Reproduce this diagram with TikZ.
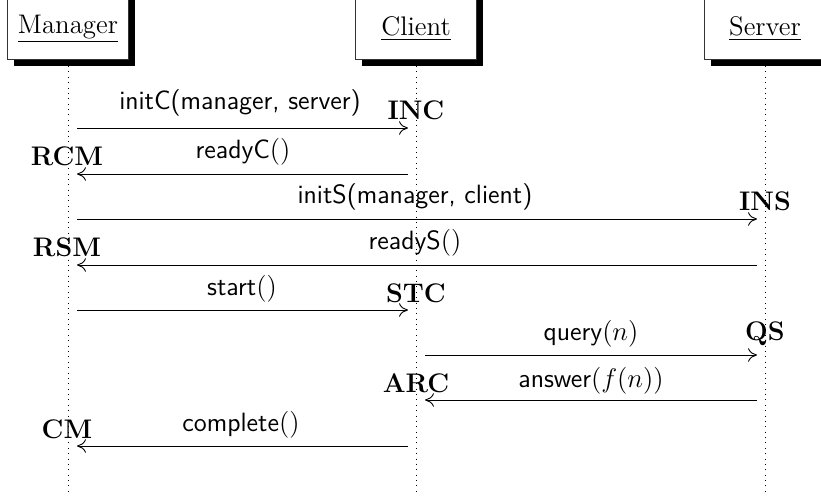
\documentclass[tikz,border=0pt]{standalone}
\usetikzlibrary{arrows.meta}
\begin{document}
\begin{tikzpicture}[x=0.01569cm,y=-0.01569cm,
  threadbox/.style={draw=black!80,fill=white,line width=0.5pt,minimum width=121*0.01569cm,minimum height=75*0.01569cm,inner sep=0pt},
  shadowbox/.style={fill=black,draw=none,minimum width=121*0.01569cm,minimum height=75*0.01569cm,inner sep=0pt},
  lifeline/.style={dotted,line width=0.4pt},
  msg/.style={-{To[length=4pt,width=6pt]},line width=0.4pt},
  mlabel/.style={font=\fontsize{11.8}{14}\selectfont\sffamily,inner sep=0pt},
  tag/.style={font=\fontsize{11.8}{14}\selectfont,inner sep=0pt}]
\useasboundingbox (0,0) rectangle (821,496);
% shadows and boxes
\node[shadowbox] (Ms) at (74,28) {};
\node[shadowbox] (Cs) at (422,28) {};
\node[shadowbox] (Ss) at (771,28) {};
\node[threadbox] (M) at (68,22) {};
\node[threadbox] (C) at (416,22) {};
\node[threadbox] (S) at (765,22) {};
\node[font=\large] (Mt) at (68,29) {\underline{Manager}};
\node[font=\large] (Ct) at (416,29) {\underline{Client}};
\node[font=\large] (St) at (765,29) {\underline{Server}};
% lifelines
\coordinate (Mtop) at (68,66); \coordinate (Ctop) at (416,66); \coordinate (Stop) at (765,66);
\coordinate (Mb) at (68,496); \coordinate (Cb) at (416,496); \coordinate (Sb) at (765,496);
\draw[lifeline] (Mtop) -- (Mb);
\draw[lifeline] (Ctop) -- (Cb);
\draw[lifeline] (Stop) -- (Sb);
% message endpoints
\coordinate (m1a) at (77,128);  \coordinate (m1b) at (408,128);
\coordinate (m2a) at (408,174); \coordinate (m2b) at (77,174);
\coordinate (m3a) at (77,219);  \coordinate (m3b) at (757,219);
\coordinate (m4a) at (757,265); \coordinate (m4b) at (77,265);
\coordinate (m5a) at (77,310);  \coordinate (m5b) at (408,310);
\coordinate (m6a) at (425,355); \coordinate (m6b) at (757,355);
\coordinate (m7a) at (757,400); \coordinate (m7b) at (425,400);
\coordinate (m8a) at (408,446); \coordinate (m8b) at (77,446);
\draw[msg] (m1a) -- (m1b);
\draw[msg] (m2a) -- (m2b);
\draw[msg] (m3a) -- (m3b);
\draw[msg] (m4a) -- (m4b);
\draw[msg] (m5a) -- (m5b);
\draw[msg] (m6a) -- (m6b);
\draw[msg] (m7a) -- (m7b);
\draw[msg] (m8a) -- (m8b);
% message labels
\node[mlabel] (l1) at (240,103) {initC(manager, server)};
\node[mlabel] (l2) at (243,152) {readyC$()$};
\node[mlabel] (l3) at (415,197) {initS(manager, client)};
\node[mlabel] (l4) at (415,243) {readyS$()$};
\node[mlabel] (l5) at (242,289) {start$()$};
\node[mlabel] (l6) at (591,334) {query$(n)$};
\node[mlabel] (l7) at (591,381) {answer$(f(n))$};
\node[mlabel] (l8) at (241,425) {complete$()$};
% tags
\node[tag] (t1) at (416,110) {$\mathbf{INC}$};
\node[tag] (t2) at (67,156) {$\mathbf{RCM}$};
\node[tag] (t3) at (765,201) {$\mathbf{INS}$};
\node[tag] (t4) at (67,247) {$\mathbf{RSM}$};
\node[tag] (t5) at (416,293) {$\mathbf{STC}$};
\node[tag] (t6) at (765,334) {$\mathbf{QS}$};
\node[tag] (t7) at (416,383) {$\mathbf{ARC}$};
\node[tag] (t8) at (67,429) {$\mathbf{CM}$};
\end{tikzpicture}
\end{document}
